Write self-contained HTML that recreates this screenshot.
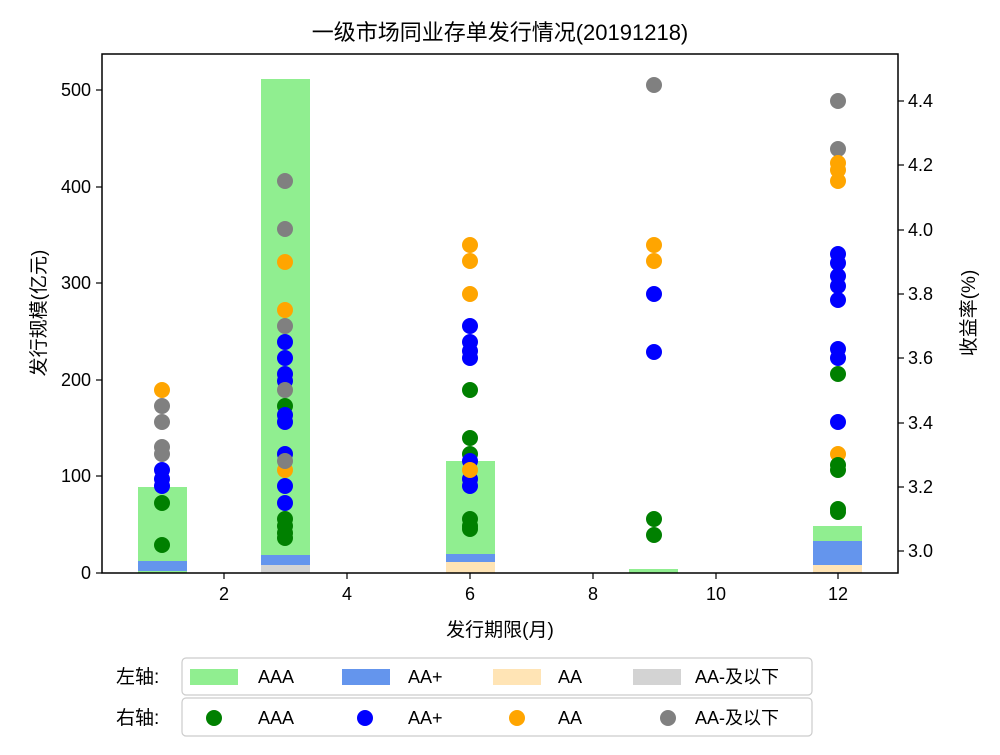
<!DOCTYPE html>
<html><head><meta charset="utf-8"><style>body{margin:0;background:#fff}svg{display:block}text{font-family:"Liberation Sans","Noto Sans CJK SC",sans-serif;fill:#000}</style></head>
<body>
<svg width="1000" height="755" xmlns="http://www.w3.org/2000/svg">
<rect width="1000" height="755" fill="#fff"/>
<text x="500" y="40" font-size="22" text-anchor="middle">一级市场同业存单发行情况(20191218)</text>
<!-- bars -->
<g>
<rect x="138" y="487" width="49" height="86" fill="#90ee90"/>
<rect x="138" y="561" width="49" height="10" fill="#6495ed"/>
<rect x="261" y="79" width="49" height="494" fill="#90ee90"/>
<rect x="261" y="555" width="49" height="10" fill="#6495ed"/>
<rect x="261" y="565" width="49" height="8" fill="#d3d3d3"/>
<rect x="446" y="461" width="49" height="112" fill="#90ee90"/>
<rect x="446" y="554" width="49" height="8" fill="#6495ed"/>
<rect x="446" y="562" width="49" height="11" fill="#ffe4b5"/>
<rect x="629" y="569" width="49" height="4" fill="#90ee90"/>
<rect x="813" y="526" width="49" height="47" fill="#90ee90"/>
<rect x="813" y="541" width="49" height="24" fill="#6495ed"/>
<rect x="813" y="565" width="49" height="7" fill="#ffe4b5"/>
<rect x="813" y="572" width="49" height="1" fill="#d3d3d3"/>
</g>
<!-- dots -->
<g>
<g fill="#ffa500"><circle cx="162" cy="390" r="8"/></g>
<g fill="#808080"><circle cx="162" cy="406" r="8"/><circle cx="162" cy="422" r="8"/><circle cx="162" cy="447" r="8"/><circle cx="162" cy="454" r="8"/></g>
<g fill="#0000ff"><circle cx="162" cy="470" r="8"/><circle cx="162" cy="479" r="8"/><circle cx="162" cy="486" r="8"/></g>
<g fill="#008000"><circle cx="162" cy="503" r="8"/><circle cx="162" cy="545" r="8"/></g>

<g fill="#008000"><circle cx="285" cy="406" r="8"/><circle cx="285" cy="519" r="8"/><circle cx="285" cy="526" r="8"/><circle cx="285" cy="533" r="8"/><circle cx="285" cy="538" r="8"/></g>
<g fill="#ffa500"><circle cx="285" cy="262" r="8"/><circle cx="285" cy="310" r="8"/><circle cx="285" cy="470" r="8"/></g>
<g fill="#0000ff"><circle cx="285" cy="342" r="8"/><circle cx="285" cy="358" r="8"/><circle cx="285" cy="374" r="8"/><circle cx="285" cy="381" r="8"/><circle cx="285" cy="415" r="8"/><circle cx="285" cy="422" r="8"/><circle cx="285" cy="454" r="8"/><circle cx="285" cy="486" r="8"/><circle cx="285" cy="503" r="8"/></g>
<g fill="#808080"><circle cx="285" cy="181" r="8"/><circle cx="285" cy="229" r="8"/><circle cx="285" cy="326" r="8"/><circle cx="285" cy="390" r="8"/><circle cx="285" cy="461" r="8"/></g>

<g fill="#008000"><circle cx="470" cy="390" r="8"/><circle cx="470" cy="438" r="8"/><circle cx="470" cy="454" r="8"/><circle cx="470" cy="519" r="8"/><circle cx="470" cy="526" r="8"/><circle cx="470" cy="529" r="8"/></g>
<g fill="#0000ff"><circle cx="470" cy="326" r="8"/><circle cx="470" cy="342" r="8"/><circle cx="470" cy="351" r="8"/><circle cx="470" cy="358" r="8"/><circle cx="470" cy="461" r="8"/><circle cx="470" cy="479" r="8"/><circle cx="470" cy="486" r="8"/></g>
<g fill="#ffa500"><circle cx="470" cy="245" r="8"/><circle cx="470" cy="261" r="8"/><circle cx="470" cy="294" r="8"/><circle cx="470" cy="470" r="8"/></g>

<g fill="#808080"><circle cx="654" cy="85" r="8"/></g>
<g fill="#ffa500"><circle cx="654" cy="245" r="8"/><circle cx="654" cy="261" r="8"/></g>
<g fill="#0000ff"><circle cx="654" cy="294" r="8"/><circle cx="654" cy="352" r="8"/></g>
<g fill="#008000"><circle cx="654" cy="519" r="8"/><circle cx="654" cy="535" r="8"/></g>

<g fill="#808080"><circle cx="838" cy="101" r="8"/><circle cx="838" cy="149" r="8"/></g>
<g fill="#ffa500"><circle cx="838" cy="163" r="8"/><circle cx="838" cy="170" r="8"/><circle cx="838" cy="181" r="8"/><circle cx="838" cy="454" r="8"/></g>
<g fill="#0000ff"><circle cx="838" cy="254" r="8"/><circle cx="838" cy="263" r="8"/><circle cx="838" cy="276" r="8"/><circle cx="838" cy="286" r="8"/><circle cx="838" cy="300" r="8"/><circle cx="838" cy="349" r="8"/><circle cx="838" cy="358" r="8"/><circle cx="838" cy="422" r="8"/></g>
<g fill="#008000"><circle cx="838" cy="374" r="8"/><circle cx="838" cy="465" r="8"/><circle cx="838" cy="470" r="8"/><circle cx="838" cy="509" r="8"/><circle cx="838" cy="512" r="8"/></g>
</g>
<!-- frame -->
<rect x="102" y="54" width="796" height="519" fill="none" stroke="#000" stroke-width="1.5"/>
<g stroke="#000" stroke-width="1.2">
<line x1="224" y1="573" x2="224" y2="579"/><line x1="347" y1="573" x2="347" y2="579"/><line x1="470" y1="573" x2="470" y2="579"/><line x1="593" y1="573" x2="593" y2="579"/><line x1="716" y1="573" x2="716" y2="579"/><line x1="838" y1="573" x2="838" y2="579"/>
<line x1="96" y1="573" x2="102" y2="573"/><line x1="96" y1="476" x2="102" y2="476"/><line x1="96" y1="380" x2="102" y2="380"/><line x1="96" y1="283" x2="102" y2="283"/><line x1="96" y1="187" x2="102" y2="187"/><line x1="96" y1="90" x2="102" y2="90"/>
<line x1="898" y1="551" x2="904" y2="551"/><line x1="898" y1="487" x2="904" y2="487"/><line x1="898" y1="423" x2="904" y2="423"/><line x1="898" y1="358" x2="904" y2="358"/><line x1="898" y1="294" x2="904" y2="294"/><line x1="898" y1="230" x2="904" y2="230"/><line x1="898" y1="165" x2="904" y2="165"/><line x1="898" y1="101" x2="904" y2="101"/>
</g>
<g font-size="18" text-anchor="middle">
<text x="224" y="600">2</text><text x="347" y="600">4</text><text x="470" y="600">6</text><text x="593" y="600">8</text><text x="716" y="600">10</text><text x="838" y="600">12</text>
</g>
<g font-size="18" text-anchor="end">
<text x="91" y="579">0</text><text x="91" y="482">100</text><text x="91" y="386">200</text><text x="91" y="289">300</text><text x="91" y="193">400</text><text x="91" y="96">500</text>
</g>
<g font-size="18">
<text x="908" y="557">3.0</text><text x="908" y="493">3.2</text><text x="908" y="429">3.4</text><text x="908" y="364">3.6</text><text x="908" y="300">3.8</text><text x="908" y="236">4.0</text><text x="908" y="171">4.2</text><text x="908" y="107">4.4</text>
</g>
<text x="500" y="636" font-size="19" text-anchor="middle">发行期限(月)</text>
<text transform="translate(45,313) rotate(-90)" font-size="19" text-anchor="middle">发行规模(亿元)</text>
<text transform="translate(975,313) rotate(-90)" font-size="19" text-anchor="middle">收益率(%)</text>
<!-- legends -->
<rect x="182" y="658" width="630" height="37" rx="4" fill="#fff" stroke="#ccc" stroke-width="1.2"/>
<rect x="182" y="698" width="630" height="38" rx="4" fill="#fff" stroke="#ccc" stroke-width="1.2"/>
<g font-size="19"><text x="116" y="683">左轴:</text><text x="116" y="724">右轴:</text></g>
<rect x="190" y="669" width="48" height="16" fill="#90ee90"/>
<rect x="342" y="669" width="48" height="16" fill="#6495ed"/>
<rect x="493" y="669" width="48" height="16" fill="#ffe4b5"/>
<rect x="633" y="669" width="48" height="16" fill="#d3d3d3"/>
<circle cx="214" cy="718" r="8" fill="#008000"/>
<circle cx="365" cy="718" r="8" fill="#0000ff"/>
<circle cx="517" cy="718" r="8" fill="#ffa500"/>
<circle cx="668" cy="718" r="8" fill="#808080"/>
<g font-size="18">
<text x="258" y="683">AAA</text><text x="408" y="683">AA+</text><text x="558" y="683">AA</text><text x="695" y="683">AA-及以下</text>
<text x="258" y="724">AAA</text><text x="408" y="724">AA+</text><text x="558" y="724">AA</text><text x="695" y="724">AA-及以下</text>
</g>
</svg>
</body></html>
